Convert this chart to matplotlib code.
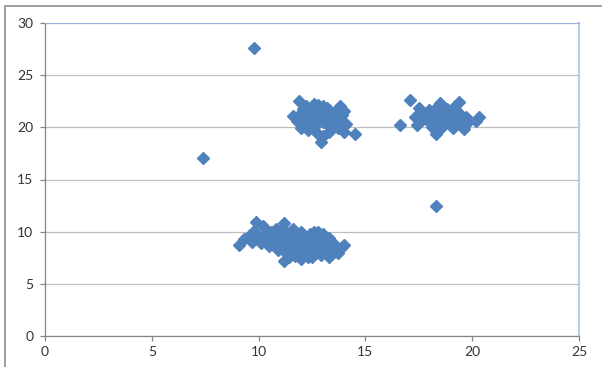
#!/usr/bin/env python3
"""Excel-style scatter of three point clusters."""
import matplotlib
matplotlib.use("Agg")
import matplotlib.pyplot as plt
from matplotlib.patches import Rectangle

# lower cluster (around x=11.5, y=9)
low_x = [9.1, 9.3, 9.6, 9.8, 9.9, 10.2, 9.7, 10.0, 10.1, 10.3, 10.4, 10.5, 10.6, 10.7,
         10.8, 10.9, 10.9, 11.0, 11.1, 11.2, 11.2, 11.2, 11.3, 11.3, 11.4, 11.5, 11.5,
         11.6, 11.7, 11.7, 11.8, 11.9, 11.9, 12.0, 12.0, 12.1, 12.2, 12.2, 12.3, 12.4,
         12.4, 12.5, 12.5, 12.6, 12.6, 12.7, 12.7, 12.8, 12.9, 12.9, 13.0, 13.0, 13.1,
         13.2, 13.2, 13.3, 13.3, 13.4, 13.5, 13.6, 13.7, 13.9, 14.0, 10.6, 10.2, 11.0,
         11.8, 12.3, 12.8, 13.3, 11.4, 10.8, 10.5, 11.6]
low_y = [8.7, 9.3, 9.7, 10.1, 10.9, 10.5, 9.0, 9.4, 8.9, 9.8, 9.2, 8.6, 10.0, 9.5,
         8.9, 8.2, 9.9, 9.2, 8.6, 10.8, 10.2, 7.2, 9.6, 8.0, 9.0, 8.4, 10.0,
         9.4, 7.7, 8.8, 9.9, 8.2, 9.2, 7.4, 10.0, 8.6, 9.5, 7.9, 8.9, 8.3,
         9.8, 7.6, 9.2, 10.0, 8.6, 8.0, 9.6, 8.9, 7.8, 9.3, 8.4, 9.8, 8.9,
         7.9, 9.3, 7.6, 8.5, 9.0, 8.2, 8.7, 8.0, 8.5, 8.7, 9.0, 9.1, 10.1,
         8.5, 7.6, 10.0, 9.4, 7.6, 10.3, 9.9, 10.3]

# upper middle cluster (around x=13, y=21)
mid_x = [11.6, 11.8, 11.9, 12.0, 12.1, 12.2, 12.3, 12.3, 12.4, 12.5, 12.6, 12.6, 12.7,
         12.8, 12.9, 12.9, 13.0, 13.0, 13.1, 13.2, 13.3, 13.3, 13.4, 13.5, 13.6, 13.7,
         13.8, 13.8, 13.9, 14.0, 14.0, 14.1, 14.5, 12.0, 12.4, 12.8, 13.2, 13.6, 12.2,
         13.0, 13.5, 12.7, 12.1, 12.5, 13.1, 12.9, 13.3, 12.4]
mid_y = [21.1, 20.6, 22.5, 21.4, 20.2, 22.0, 21.0, 19.7, 20.6, 21.8, 22.2, 20.0, 21.3,
         19.4, 18.6, 20.7, 22.0, 19.2, 21.0, 20.3, 21.7, 19.6, 20.9, 20.2, 21.5, 19.9,
         22.0, 20.7, 21.2, 21.6, 19.6, 20.3, 19.4, 19.9, 21.4, 22.1, 21.9, 20.9, 20.8,
         20.5, 21.2, 20.4, 21.8, 20.5, 21.5, 21.6, 20.1, 19.9]

# right cluster (around x=18.5, y=21)
right_x = [16.6, 17.1, 17.3, 17.4, 17.6, 17.7, 17.8, 18.0, 18.0, 18.1, 18.2, 18.3, 18.4,
           18.5, 18.5, 18.6, 18.7, 18.8, 18.9, 19.0, 19.1, 19.2, 19.3, 19.4, 19.4, 19.5,
           19.6, 19.7, 19.8, 20.2, 20.3, 17.9, 18.3, 19.0, 17.5]
right_y = [20.2, 22.6, 21.0, 20.2, 21.5, 20.8, 21.3, 20.5, 21.7, 20.0, 21.1, 19.4, 20.6,
           22.3, 21.5, 20.0, 21.0, 21.8, 20.4, 21.3, 19.9, 22.0, 20.8, 22.4, 21.4, 20.2,
           19.8, 21.0, 20.5, 20.6, 21.0, 21.0, 21.9, 20.6, 21.9]

# isolated points
out_x = [9.8, 7.4, 18.3]
out_y = [27.6, 17.1, 12.5]

xs = low_x + mid_x + right_x + out_x
ys = low_y + mid_y + right_y + out_y

fig = plt.figure(figsize=(6.02, 3.67), dpi=100)
# outer chart frame (Excel chart area)
fig.patches.append(Rectangle((5 / 602, -0.2), 1.2, 0.2 + 1 - 6 / 367,
                             transform=fig.transFigure, fill=False,
                             edgecolor="#8c8c8c", linewidth=1.2))
ax = fig.add_axes([45 / 602, 31 / 367, 534 / 602, 313 / 367])

ax.plot(xs, ys, linestyle="none", marker="D", ms=6, color="#4F81BD",
        markeredgecolor="#4F81BD", zorder=3)

ax.set_xlim(0, 25)
ax.set_ylim(0, 30)
ax.set_xticks(range(0, 26, 5))
ax.set_yticks(range(0, 31, 5))
ax.grid(axis="y", color="#bfbfbf", linewidth=0.9)
ax.set_axisbelow(True)

for s in ("left", "bottom"):
    ax.spines[s].set_color("#868686")
    ax.spines[s].set_linewidth(0.9)
ax.spines["top"].set_color("#95B3D7")
ax.spines["right"].set_color("#B9CDE5")
ax.spines["right"].set_linewidth(1.5)

ax.tick_params(axis="both", colors="#868686", labelcolor="#333333",
               labelsize=10, length=3.5, width=0.9)
ax.tick_params(axis="y", pad=5)
ax.tick_params(axis="x", pad=4)
for lab in ax.get_xticklabels() + ax.get_yticklabels():
    lab.set_family("Lato")

fig.savefig("out.png", dpi=100)
